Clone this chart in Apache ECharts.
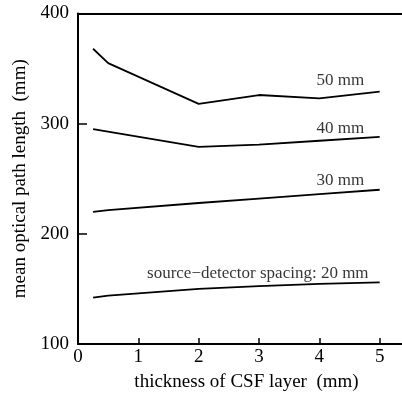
<!DOCTYPE html>
<html>
<head>
<meta charset="utf-8">
<script src="https://cdn.jsdelivr.net/npm/echarts@6/dist/echarts.min.js"></script>
<style>
  html, body { margin: 0; padding: 0; background: #fff; }
  #chart { width: 402px; height: 398px; }
</style>
</head>
<body>
<div id="chart"></div>
<script>
// thickness of CSF layer (mm) -> mean optical path length (mm), per spacing
const spacing50 = [[0.25, 368], [0.5, 355], [2, 318], [3, 326], [4, 323], [5, 329]];
const spacing40 = [[0.25, 295], [2, 279], [3, 281], [4, 284.5], [5, 288]];
const spacing30 = [[0.25, 220], [0.5, 221.5], [2, 228], [3, 232], [4, 236], [5, 240]];
const spacing20 = [[0.25, 142], [0.5, 144], [2, 150], [3, 152.5], [4, 154.5], [5, 156]];

// annotation text, anchored in data coordinates
const labelText = ["50 mm", "40 mm", "30 mm", "source\u2212detector spacing: 20 mm"];
const labelAnchor = [[4.35, 339], [4.35, 296], [4.35, 248], [2.98, 164]];

const FONT = '"Liberation Serif", "DejaVu Serif", serif';

const chart = echarts.init(document.getElementById("chart"), null, { renderer: "canvas" });

function lineSeries(data) {
  return {
    type: "line",
    data: data,
    showSymbol: false,
    silent: true,
    lineStyle: { color: "#000", width: 1.8 },
  };
}

chart.setOption({
  animation: false,
  backgroundColor: "#fff",
  grid: { left: 78, top: 13.5, right: 0, bottom: 54 },
  xAxis: [
    {
      type: "value",
      min: 0,
      max: 5.37,
      interval: 1,
      name: "thickness of CSF layer  (mm)",
      nameLocation: "middle",
      nameGap: 29,
      nameTextStyle: { fontFamily: FONT, fontSize: 19, color: "#000", padding: [0, 0, 0, 13] },
      axisLine: { lineStyle: { color: "#000", width: 2 } },
      axisTick: { inside: true, length: 6, lineStyle: { color: "#000", width: 1.5 } },
      axisLabel: { fontFamily: FONT, fontSize: 19, color: "#000", margin: 4, showMaxLabel: false },
      splitLine: { show: false },
    },
    {
      type: "value",
      position: "top",
      min: 0,
      max: 5.37,
      axisLine: { show: true, lineStyle: { color: "#000", width: 2 } },
      axisTick: { show: false },
      axisLabel: { show: false },
      splitLine: { show: false },
    },
  ],
  yAxis: {
    type: "value",
    min: 100,
    max: 400,
    interval: 100,
    name: "mean optical path length  (mm)",
    nameLocation: "middle",
    nameGap: 48,
    nameTextStyle: { fontFamily: FONT, fontSize: 19, color: "#000" },
    axisLine: { show: true, lineStyle: { color: "#000", width: 2 } },
    axisTick: { inside: true, length: 9, lineStyle: { color: "#000", width: 1.5 } },
    axisLabel: { fontFamily: FONT, fontSize: 19, color: "#000", margin: 9 },
    splitLine: { show: false },
  },
  series: [
    lineSeries(spacing50),
    lineSeries(spacing40),
    lineSeries(spacing30),
    lineSeries(spacing20),
    {
      type: "scatter",
      symbolSize: 0,
      silent: true,
      data: labelAnchor.map((p, i) => ({ value: p, name: labelText[i] })),
      label: {
        show: true,
        position: "inside",
        formatter: (p) => p.name,
        fontFamily: FONT,
        fontSize: 17,
        color: "#000",
      },
    },
  ],
});
</script>
</body>
</html>
